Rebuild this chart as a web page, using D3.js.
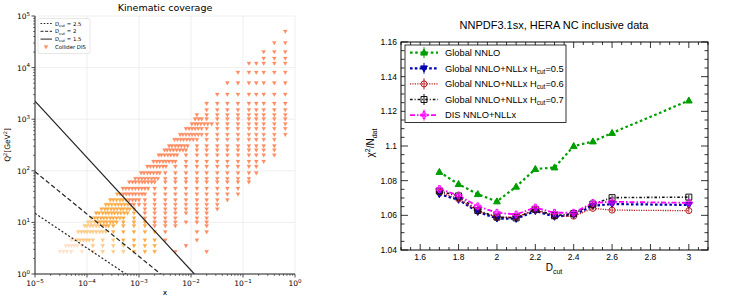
<!DOCTYPE html>
<html>
<head>
<meta charset="utf-8">
<script src="https://cdn.jsdelivr.net/npm/d3@7"></script>
<style>
    body { margin: 0; background: white; }
    svg { display: block; }
</style>
</head>
<body>
<svg id="chart" width="747" height="303"></svg>
<script>
// ---- left panel: kinematic coverage ----
var q2Rows = [2.7, 3.5, 4.5, 6.5, 8.5, 10, 12, 15, 18, 22, 27, 35, 45, 60, 70, 90, 120, 150, 200, 250,
    300, 400, 500, 650, 800, 1000, 1200, 1500, 2000, 3000, 5000, 8000, 12000, 15000, 20000, 30000, 50000];
var xRows = [
    [3.0e-5, 3.5e-5, 4.1e-5, 5.0e-5, 8.0e-5, 1.3e-4, 2.0e-4, 3.2e-4, 5.0e-4, 8.0e-4, 1.3e-3, 2.0e-3, 5.0e-3, 0.02],
    [3.9e-5, 4.4e-5, 5.0e-5, 5.7e-5, 6.5e-5, 8.0e-5, 1.3e-4, 2.0e-4, 3.2e-4, 5.0e-4, 8.0e-4, 1.3e-3, 2.0e-3, 8.0e-3],
    [5.0e-5, 5.7e-5, 6.5e-5, 7.4e-5, 8.5e-5, 9.7e-5, 1.1e-4, 1.3e-4, 2.0e-4, 3.2e-4, 5.0e-4, 8.0e-4, 1.3e-3, 2.0e-3, 3.2e-3, 0.013],
    [6.8e-5, 7.8e-5, 8.9e-5, 1.0e-4, 1.15e-4, 1.3e-4, 1.5e-4, 1.75e-4, 2.0e-4, 2.3e-4, 3.2e-4, 5.0e-4, 8.0e-4, 1.3e-3, 2.0e-3, 3.2e-3, 0.013, 0.02],
    [9.0e-5, 1.0e-4, 1.15e-4, 1.3e-4, 1.5e-4, 1.7e-4, 2.0e-4, 2.3e-4, 2.6e-4, 3.2e-4, 5.0e-4, 8.0e-4, 1.3e-3, 2.0e-3, 3.2e-3, 5.0e-3, 0.02],
    [1.05e-4, 1.2e-4, 1.4e-4, 1.6e-4, 1.8e-4, 2.1e-4, 2.4e-4, 2.8e-4, 3.2e-4, 3.7e-4, 5.0e-4, 8.0e-4, 1.3e-3, 2.0e-3, 3.2e-3, 5.0e-3, 8.0e-3, 0.013, 0.02],
    [1.2e-4, 1.4e-4, 1.6e-4, 1.85e-4, 2.1e-4, 2.4e-4, 2.8e-4, 3.2e-4, 3.7e-4, 4.3e-4, 5.0e-4, 8.0e-4, 1.3e-3, 2.0e-3, 3.2e-3, 5.0e-3, 0.013, 0.02],
    [1.5e-4, 1.7e-4, 2.0e-4, 2.3e-4, 2.6e-4, 3.0e-4, 3.4e-4, 3.9e-4, 4.5e-4, 5.2e-4, 6.0e-4, 8.0e-4, 1.3e-3, 2.0e-3, 3.2e-3, 5.0e-3, 8.0e-3, 0.013, 0.02],
    [1.9e-4, 2.2e-4, 2.5e-4, 2.9e-4, 3.3e-4, 3.8e-4, 4.4e-4, 5.0e-4, 5.8e-4, 6.6e-4, 8.0e-4, 1.3e-3, 2.0e-3, 3.2e-3, 5.0e-3, 8.0e-3, 0.013, 0.02, 0.032],
    [2.3e-4, 2.6e-4, 3.0e-4, 3.5e-4, 4.0e-4, 4.6e-4, 5.3e-4, 6.1e-4, 7.0e-4, 8.0e-4, 1.0e-3, 1.3e-3, 2.0e-3, 3.2e-3, 5.0e-3, 8.0e-3, 0.013, 0.02, 0.032],
    [2.8e-4, 3.2e-4, 3.7e-4, 4.3e-4, 4.9e-4, 5.6e-4, 6.5e-4, 7.5e-4, 8.6e-4, 1.0e-3, 1.3e-3, 2.0e-3, 3.2e-3, 5.0e-3, 8.0e-3, 0.013, 0.02, 0.032, 0.05],
    [3.8e-4, 4.3e-4, 5.0e-4, 5.7e-4, 6.5e-4, 7.5e-4, 8.6e-4, 1.0e-3, 1.15e-3, 1.3e-3, 2.0e-3, 3.2e-3, 5.0e-3, 8.0e-3, 0.013, 0.02, 0.032, 0.05, 0.08],
    [4.9e-4, 5.6e-4, 6.4e-4, 7.4e-4, 8.5e-4, 9.8e-4, 1.13e-3, 1.3e-3, 1.5e-3, 2.0e-3, 3.2e-3, 5.0e-3, 8.0e-3, 0.013, 0.02, 0.032, 0.05, 0.08],
    [6.5e-4, 7.5e-4, 8.6e-4, 1.0e-3, 1.15e-3, 1.3e-3, 1.5e-3, 1.75e-3, 2.0e-3, 3.2e-3, 5.0e-3, 8.0e-3, 0.013, 0.02, 0.032, 0.05, 0.08, 0.13],
    [8.5e-4, 9.8e-4, 1.13e-3, 1.3e-3, 1.5e-3, 1.75e-3, 2.0e-3, 2.3e-3, 3.2e-3, 5.0e-3, 8.0e-3, 0.013, 0.02, 0.032, 0.05, 0.08, 0.13],
    [1.1e-3, 1.25e-3, 1.45e-3, 1.65e-3, 1.9e-3, 2.2e-3, 2.5e-3, 3.2e-3, 5.0e-3, 8.0e-3, 0.013, 0.02, 0.032, 0.05, 0.08, 0.13, 0.18],
    [1.45e-3, 1.65e-3, 1.9e-3, 2.2e-3, 2.5e-3, 2.9e-3, 3.3e-3, 5.0e-3, 8.0e-3, 0.013, 0.02, 0.032, 0.05, 0.08, 0.13, 0.18],
    [1.9e-3, 2.2e-3, 2.5e-3, 2.9e-3, 3.3e-3, 3.8e-3, 4.4e-3, 5.0e-3, 8.0e-3, 0.013, 0.02, 0.032, 0.05, 0.08, 0.13, 0.18, 0.25],
    [2.4e-3, 2.7e-3, 3.1e-3, 3.6e-3, 4.1e-3, 4.7e-3, 5.4e-3, 8.0e-3, 0.013, 0.02, 0.032, 0.05, 0.08, 0.13, 0.18, 0.25, 0.4],
    [3.1e-3, 3.5e-3, 4.0e-3, 4.6e-3, 5.3e-3, 6.1e-3, 7.0e-3, 8.0e-3, 0.013, 0.02, 0.032, 0.05, 0.08, 0.13, 0.18, 0.25, 0.4],
    [3.8e-3, 4.3e-3, 5.0e-3, 5.7e-3, 6.5e-3, 7.5e-3, 8.6e-3, 0.013, 0.02, 0.032, 0.05, 0.08, 0.13, 0.18, 0.25, 0.4],
    [4.8e-3, 5.5e-3, 6.3e-3, 7.2e-3, 8.3e-3, 9.5e-3, 0.011, 0.013, 0.02, 0.032, 0.05, 0.08, 0.13, 0.18, 0.25, 0.4],
    [6.2e-3, 7.0e-3, 8.0e-3, 9.2e-3, 0.0105, 0.012, 0.0138, 0.016, 0.02, 0.032, 0.05, 0.08, 0.13, 0.18, 0.25, 0.4, 0.65],
    [8.0e-3, 9.2e-3, 0.0105, 0.012, 0.0138, 0.016, 0.02, 0.032, 0.05, 0.08, 0.13, 0.18, 0.25, 0.4, 0.65],
    [0.0104, 0.012, 0.0135, 0.0155, 0.018, 0.021, 0.025, 0.032, 0.05, 0.08, 0.13, 0.18, 0.25, 0.4, 0.65],
    [0.012, 0.014, 0.016, 0.02, 0.032, 0.05, 0.08, 0.13, 0.18, 0.25, 0.4, 0.65],
    [0.013, 0.02, 0.032, 0.05, 0.08, 0.13, 0.18, 0.25, 0.4, 0.65],
    [0.02, 0.032, 0.05, 0.08, 0.13, 0.18, 0.25, 0.4, 0.65],
    [0.02, 0.032, 0.05, 0.08, 0.13, 0.18, 0.25, 0.4, 0.65],
    [0.032, 0.05, 0.08, 0.13, 0.18, 0.25, 0.4, 0.65],
    [0.05, 0.08, 0.13, 0.18, 0.25, 0.4, 0.65],
    [0.08, 0.13, 0.18, 0.25, 0.4, 0.65],
    [0.13, 0.18, 0.25, 0.4, 0.65],
    [0.25, 0.4, 0.65],
    [0.25, 0.4, 0.65],
    [0.4, 0.65],
    [0.65]
];

// D_cut lines, end points as [x, Q2]
var dcutLabels = ['2.5', '2', '1.5'];
var dcutLines = [
    [[1e-5, 15], [5.6e-4, 1]],
    [[1e-5, 96], [2.6e-3, 1]],
    [[1e-5, 2240], [1.16e-2, 1]]
];
var dcutDash = ['2,2', '4.5,2.5', null];
// colours: below 2.5 line, between 2.5 and 2, between 2 and 1.5, above 1.5
var regionColors = ['#fee2c8', '#fdca88', '#fdab45', '#fc8d62'];

// ---- right panel: chi2 vs D_cut ----
var dcutValues = [1.7, 1.8, 1.9, 2.0, 2.1, 2.2, 2.3, 2.4, 2.5, 2.6, 3.0];
var globalNNLO = [1.085, 1.078, 1.0722, 1.068, 1.0765, 1.0867, 1.0876, 1.0999, 1.1026, 1.1075, 1.1262];
var nllxH05 = [1.0722, 1.0690, 1.0620, 1.0582, 1.0580, 1.0625, 1.0592, 1.0602, 1.0655, 1.0665, 1.0660];
var nllxH06 = [1.0735, 1.0695, 1.0625, 1.0588, 1.0590, 1.0630, 1.0595, 1.0595, 1.0640, 1.0630, 1.0627];
var nllxH07 = [1.0740, 1.0712, 1.0628, 1.0590, 1.0585, 1.0635, 1.0598, 1.0610, 1.0665, 1.0702, 1.0705];
var disNLLx = [1.0752, 1.0715, 1.0652, 1.0615, 1.0605, 1.0645, 1.0615, 1.0615, 1.0672, 1.0678, 1.0672];
var chiErr = 0.0012;
var seriesNames = ['Global NNLO', 'Global NNLO+NLLx H|0.5', 'Global NNLO+NLLx H|0.6', 'Global NNLO+NLLx H|0.7', 'DIS NNLO+NLLx'];
var yTicksR = [1.04, 1.06, 1.08, 1.1, 1.12, 1.14, 1.16];
var xTicksR = [1.6, 1.8, 2, 2.2, 2.4, 2.6, 2.8, 3];

var svg = d3.select('svg#chart');
svg.append('rect').attr('width', 747).attr('height', 303).style('fill', 'white');

// ================= left panel =================
var xL = d3.scaleLog().domain([1e-5, 1]).range([35, 295]);
var yL = d3.scaleLog().domain([1, 1e5]).range([274, 16]);
var left = svg.append('g').style('font-family', 'DejaVu Sans');

var decadesX = d3.range(-5, 1);
var decadesY = d3.range(0, 6);

// grid
left.selectAll('line.gx').data(decadesX).enter().append('line')
    .attr('x1', function(d){ return xL(Math.pow(10, d)); })
    .attr('x2', function(d){ return xL(Math.pow(10, d)); })
    .attr('y1', yL(1)).attr('y2', yL(1e5))
    .style('stroke', '#ebebeb').style('stroke-width', 0.8);
left.selectAll('line.gy').data(decadesY).enter().append('line')
    .attr('y1', function(d){ return yL(Math.pow(10, d)); })
    .attr('y2', function(d){ return yL(Math.pow(10, d)); })
    .attr('x1', xL(1e-5)).attr('x2', xL(1))
    .style('stroke', '#ebebeb').style('stroke-width', 0.8);

left.append('text').attr('x', 165).attr('y', 11).attr('text-anchor', 'middle')
    .style('font-size', '9.5px').text('Kinematic coverage');

function lineQ2(line, x){
    var lx0 = Math.log10(line[0][0]), lx1 = Math.log10(line[1][0]);
    var ly0 = Math.log10(line[0][1]), ly1 = Math.log10(line[1][1]);
    var t = (Math.log10(x) - lx0) / (lx1 - lx0);
    return Math.pow(10, ly0 + t * (ly1 - ly0));
}

var points = [];
q2Rows.forEach(function(q2, i){
    xRows[i].forEach(function(x){
        var region = 0;
        dcutLines.forEach(function(line, k){
            if(q2 > lineQ2(line, x)) region = k + 1;
        });
        points.push({x: x, q2: q2, region: region});
    });
});

var triDown = 'M-2,-1.6 L2,-1.6 L0,2 Z';
left.append('g').selectAll('path').data(points).enter().append('path')
    .attr('d', triDown)
    .attr('transform', function(d){ return 'translate(' + xL(d.x) + ',' + yL(d.q2) + ')'; })
    .style('fill', function(d){ return regionColors[d.region]; })
    .style('stroke', function(d){ return regionColors[d.region]; })
    .style('stroke-width', 0.3);

svg.append('clipPath').attr('id', 'clipL').append('rect')
    .attr('x', 35).attr('y', 16).attr('width', 260).attr('height', 258);

var lineGen = d3.line().x(function(d){ return xL(d[0]); }).y(function(d){ return yL(d[1]); });
left.append('g').attr('clip-path', 'url(#clipL)').selectAll('path').data(dcutLines).enter().append('path')
    .attr('d', lineGen)
    .style('fill', 'none')
    .style('stroke', '#222')
    .style('stroke-width', 1.2)
    .style('stroke-dasharray', function(d, i){ return dcutDash[i]; });

// axes
left.append('line').attr('x1', 35).attr('x2', 295).attr('y1', 274).attr('y2', 274)
    .style('stroke', '#222').style('stroke-width', 1);
left.append('line').attr('x1', 35).attr('x2', 35).attr('y1', 16).attr('y2', 274)
    .style('stroke', '#222').style('stroke-width', 1);

var minorX = [], minorY = [];
decadesX.slice(0, -1).forEach(function(d){ for(var m = 2; m < 10; m++) minorX.push(m * Math.pow(10, d)); });
decadesY.slice(0, -1).forEach(function(d){ for(var m = 2; m < 10; m++) minorY.push(m * Math.pow(10, d)); });

left.selectAll('line.tx').data(decadesX.map(function(d){ return Math.pow(10, d); })).enter().append('line')
    .attr('x1', function(d){ return xL(d); }).attr('x2', function(d){ return xL(d); })
    .attr('y1', 274).attr('y2', 277.5).style('stroke', '#222').style('stroke-width', 0.8);
left.selectAll('line.mx').data(minorX).enter().append('line')
    .attr('x1', function(d){ return xL(d); }).attr('x2', function(d){ return xL(d); })
    .attr('y1', 274).attr('y2', 276).style('stroke', '#222').style('stroke-width', 0.6);
left.selectAll('line.ty').data(decadesY.map(function(d){ return Math.pow(10, d); })).enter().append('line')
    .attr('y1', function(d){ return yL(d); }).attr('y2', function(d){ return yL(d); })
    .attr('x1', 31.5).attr('x2', 35).style('stroke', '#222').style('stroke-width', 0.8);
left.selectAll('line.my').data(minorY).enter().append('line')
    .attr('y1', function(d){ return yL(d); }).attr('y2', function(d){ return yL(d); })
    .attr('x1', 33).attr('x2', 35).style('stroke', '#222').style('stroke-width', 0.6);

function powLabel(sel, exp){
    sel.append('tspan').text('10');
    sel.append('tspan').attr('dy', -3.5).style('font-size', '5.5px').text(exp < 0 ? '\u2212' + (-exp) : exp);
}
decadesX.forEach(function(d){
    var t = left.append('text').attr('x', xL(Math.pow(10, d))).attr('y', 286)
        .attr('text-anchor', 'middle').style('font-size', '7.5px');
    powLabel(t, d);
});
decadesY.forEach(function(d){
    var t = left.append('text').attr('x', 30).attr('y', yL(Math.pow(10, d)) + 3)
        .attr('text-anchor', 'end').style('font-size', '7.5px');
    powLabel(t, d);
});

left.append('text').attr('x', 165).attr('y', 295).attr('text-anchor', 'middle')
    .style('font-size', '7.5px').text('x');
var qt = left.append('text').attr('transform', 'translate(10,145) rotate(-90)')
    .attr('text-anchor', 'middle').style('font-size', '7.5px');
qt.append('tspan').text('Q');
qt.append('tspan').attr('dy', -3).style('font-size', '5px').text('2');
qt.append('tspan').attr('dy', 3).text('[GeV');
qt.append('tspan').attr('dy', -3).style('font-size', '5px').text('2');
qt.append('tspan').attr('dy', 3).text(']');

// legend
var legL = left.append('g');
legL.append('rect').attr('x', 38).attr('y', 18.5).attr('width', 52).attr('height', 35).attr('rx', 1.5)
    .style('fill', 'white').style('fill-opacity', 0.9).style('stroke', '#d6d6d6').style('stroke-width', 0.6);
dcutLabels.forEach(function(lab, i){
    var y = 23.5 + i * 7.8;
    legL.append('line').attr('x1', 40.5).attr('x2', 52).attr('y1', y).attr('y2', y)
        .style('stroke', '#222').style('stroke-width', 1)
        .style('stroke-dasharray', dcutDash[i] ? (i === 0 ? '1.6,1.6' : '3,1.6') : null);
    var t = legL.append('text').attr('x', 55).attr('y', y + 2).style('font-size', '5.3px');
    t.append('tspan').text('D');
    t.append('tspan').attr('dy', 1.2).style('font-size', '3.8px').text('cut');
    t.append('tspan').attr('dy', -1.2).text(' = ' + lab);
});
legL.append('path').attr('d', triDown).attr('transform', 'translate(46,47)')
    .style('fill', regionColors[3]).style('stroke', regionColors[3]).style('stroke-width', 0.3);
legL.append('text').attr('x', 55).attr('y', 49).style('font-size', '5.3px').text('Collider DIS');

// ================= right panel =================
var xR = d3.scaleLinear().domain([1.5, 3.1]).range([401, 708]);
var yR = d3.scaleLinear().domain([1.04, 1.16]).range([250, 42]);
var right = svg.append('g').style('font-family', 'Liberation Sans, Arial, sans-serif');

right.append('text').attr('x', 554).attr('y', 29).attr('text-anchor', 'middle')
    .style('font-size', '11px').text('NNPDF3.1sx, HERA NC inclusive data');

right.append('rect').attr('x', 401).attr('y', 42).attr('width', 307).attr('height', 208)
    .style('fill', 'none').style('stroke', 'black').style('stroke-width', 1);

// inside ticks on all sides
var minorXR = d3.range(1.5, 3.1001, 0.05);
var minorYR = d3.range(1.04, 1.16001, 0.005);
function isMajorX(v){ return Math.abs(v * 5 - Math.round(v * 5)) < 1e-6; }
function isMajorY(v){ return Math.abs(v * 50 - Math.round(v * 50)) < 1e-6; }
right.selectAll('line.bx').data(minorXR).enter().append('line')
    .attr('x1', function(d){ return xR(d); }).attr('x2', function(d){ return xR(d); })
    .attr('y1', 250).attr('y2', function(d){ return isMajorX(d) ? 244 : 247; })
    .style('stroke', 'black').style('stroke-width', 0.8);
right.selectAll('line.tx').data(minorXR).enter().append('line')
    .attr('x1', function(d){ return xR(d); }).attr('x2', function(d){ return xR(d); })
    .attr('y1', 42).attr('y2', function(d){ return isMajorX(d) ? 48 : 45; })
    .style('stroke', 'black').style('stroke-width', 0.8);
right.selectAll('line.ly').data(minorYR).enter().append('line')
    .attr('y1', function(d){ return yR(d); }).attr('y2', function(d){ return yR(d); })
    .attr('x1', 401).attr('x2', function(d){ return isMajorY(d) ? 408 : 404.5; })
    .style('stroke', 'black').style('stroke-width', 0.8);
right.selectAll('line.ry').data(minorYR).enter().append('line')
    .attr('y1', function(d){ return yR(d); }).attr('y2', function(d){ return yR(d); })
    .attr('x1', 708).attr('x2', function(d){ return isMajorY(d) ? 701 : 704.5; })
    .style('stroke', 'black').style('stroke-width', 0.8);

right.selectAll('text.yl').data(yTicksR).enter().append('text')
    .attr('x', 397).attr('y', function(d){ return yR(d) + 3; })
    .attr('text-anchor', 'end').style('font-size', '8.5px')
    .text(function(d){ return String(+d.toFixed(2)); });
right.selectAll('text.xl').data(xTicksR).enter().append('text')
    .attr('x', function(d){ return xR(d); }).attr('y', 260)
    .attr('text-anchor', 'middle').style('font-size', '8.5px')
    .text(function(d){ return String(+d.toFixed(1)); });

var xt = right.append('text').attr('x', 554).attr('y', 271).attr('text-anchor', 'middle').style('font-size', '10px');
xt.append('tspan').text('D');
xt.append('tspan').attr('dy', 2.5).style('font-size', '7px').text('cut');
var yt = right.append('text').attr('transform', 'translate(374,143) rotate(-90)')
    .attr('text-anchor', 'middle').style('font-size', '10px');
yt.append('tspan').text('\u03c7');
yt.append('tspan').attr('dy', -4).style('font-size', '7px').text('2');
yt.append('tspan').attr('dy', 4).text('/N');
yt.append('tspan').attr('dy', 2.5).style('font-size', '7px').text('dat');

var series = [
    {values: globalNNLO, color: '#009e00', dash: '2.6,2.6', width: 2.2, marker: 'triUp'},
    {values: nllxH05, color: '#0000b0', dash: '2.6,2.2', width: 2.2, marker: 'triDown'},
    {values: nllxH06, color: '#b81c1c', dash: '1.2,1.2', width: 1.3, marker: 'circle'},
    {values: nllxH07, color: '#111111', dash: '2.6,2,1,2', width: 1.6, marker: 'square'},
    {values: disNLLx, color: '#ff00ff', dash: '5,2,1.5,2', width: 1.8, marker: 'cross'}
];

function markerPath(type){
    if(type === 'triUp') return 'M0,-3.6 L3.4,2.4 L-3.4,2.4 Z';
    if(type === 'triDown') return 'M0,3.6 L3.4,-2.4 L-3.4,-2.4 Z';
    if(type === 'square') return 'M-3,-3 L3,-3 L3,3 L-3,3 Z';
    if(type === 'cross') return 'M-1,-3.4 L1,-3.4 L1,-1 L3.4,-1 L3.4,1 L1,1 L1,3.4 L-1,3.4 L-1,1 L-3.4,1 L-3.4,-1 L-1,-1 Z';
    return null;
}
function drawMarker(g, s, x, y){
    if(s.marker === 'circle'){
        g.append('circle').attr('cx', x).attr('cy', y).attr('r', 3)
            .style('fill', 'white').style('fill-opacity', 0).style('stroke', s.color).style('stroke-width', 1);
    }
    else{
        var filled = (s.marker === 'triUp' || s.marker === 'triDown');
        g.append('path').attr('d', markerPath(s.marker)).attr('transform', 'translate(' + x + ',' + y + ')')
            .style('fill', filled ? s.color : 'none').style('stroke', s.color).style('stroke-width', 1);
    }
}

var lineR = d3.line().x(function(d, i){ return xR(dcutValues[i]); }).y(function(d){ return yR(d); });
var plotR = right.append('g');
series.forEach(function(s){
    plotR.append('path').attr('d', lineR(s.values))
        .style('fill', 'none').style('stroke', s.color)
        .style('stroke-width', s.width).style('stroke-dasharray', s.dash);
});
series.forEach(function(s){
    s.values.forEach(function(v, i){
        plotR.append('line').attr('x1', xR(dcutValues[i])).attr('x2', xR(dcutValues[i]))
            .attr('y1', yR(v - chiErr)).attr('y2', yR(v + chiErr))
            .style('stroke', s.color).style('stroke-width', 1);
        drawMarker(plotR, s, xR(dcutValues[i]), yR(v));
    });
});

// legend
var legR = right.append('g');
legR.append('rect').attr('x', 405).attr('y', 45).attr('width', 161).attr('height', 77.5)
    .style('fill', 'white').style('stroke', 'black').style('stroke-width', 0.8);
series.forEach(function(s, i){
    var y = 52.7 + i * 15.6;
    legR.append('line').attr('x1', 410).attr('x2', 438).attr('y1', y).attr('y2', y)
        .style('stroke', s.color).style('stroke-width', s.width).style('stroke-dasharray', s.dash);
    legR.append('line').attr('x1', 424).attr('x2', 424).attr('y1', y - 5.5).attr('y2', y + 5.5)
        .style('stroke', s.color).style('stroke-width', 1);
    drawMarker(legR, s, 424, y);
    var parts = seriesNames[i].split('|');
    var t = legR.append('text').attr('x', 445).attr('y', y + 3.3).style('font-size', '9.3px');
    t.append('tspan').text(parts[0]);
    if(parts.length > 1){
        t.append('tspan').attr('dy', 2.2).style('font-size', '6.5px').text('cut');
        t.append('tspan').attr('dy', -2.2).text('=' + parts[1]);
    }
});
</script>
</body>
</html>
